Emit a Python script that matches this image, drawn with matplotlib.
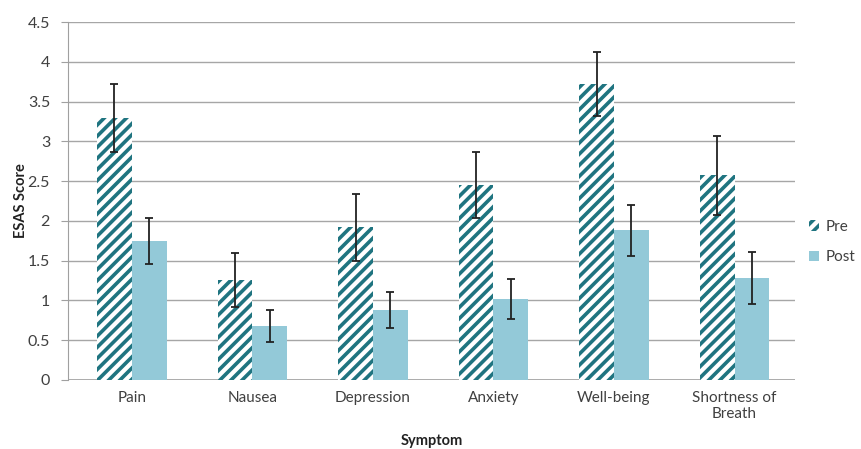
import matplotlib
matplotlib.use("Agg")
import matplotlib.pyplot as plt
import numpy as np

plt.rcParams['font.family'] = ['Lato', 'DejaVu Sans']
plt.rcParams['hatch.linewidth'] = 2.6

symptoms = ["Pain", "Nausea", "Depression", "Anxiety", "Well-being", "Shortness of\nBreath"]
pre = [3.29, 1.25, 1.92, 2.45, 3.72, 2.57]
pre_err = [0.43, 0.34, 0.42, 0.41, 0.40, 0.50]
post = [1.75, 0.68, 0.88, 1.02, 1.88, 1.28]
post_err = [0.29, 0.20, 0.23, 0.25, 0.32, 0.33]

teal = "#1f7480"
light = "#93c9d8"

fig = plt.figure(figsize=(8.62, 4.49), dpi=100)
ax = fig.add_axes([0.079, 0.154, 0.843, 0.797])

x = np.arange(len(symptoms))
w = 0.29
ax.bar(x - w/2, pre, w, color="white", edgecolor=teal, hatch="///", linewidth=0, label="Pre", zorder=2)
ax.bar(x + w/2, post, w, color=light, linewidth=0, label="Post", zorder=2)
ax.errorbar(x - w/2, pre, yerr=pre_err, fmt="none", ecolor="#222222", elinewidth=1.3, capsize=3, capthick=1.3, zorder=3)
ax.errorbar(x + w/2, post, yerr=post_err, fmt="none", ecolor="#222222", elinewidth=1.3, capsize=3, capthick=1.3, zorder=3)

ax.set_xlim(-0.53, 5.5)
ax.set_ylim(0, 4.5)
ax.set_yticks(np.arange(0, 4.6, 0.5))
ax.set_yticklabels(["0", "0.5", "1", "1.5", "2", "2.5", "3", "3.5", "4", "4.5"])
ax.set_xticks(x)
ax.set_xticklabels(symptoms, fontsize=11, color="#404040")
ax.tick_params(axis="y", labelsize=11.5, labelcolor="#404040", length=5, color="#a0a0a0", pad=8)
ax.tick_params(axis="x", length=0, pad=8)
ax.grid(axis="y", color="#a6a6a6", linewidth=1, zorder=0)
for side in ["top", "right", "bottom"]:
    ax.spines[side].set_visible(False)
ax.spines["left"].set_color("#a0a0a0")
ax.axhline(0, color="#a0a0a0", linewidth=1.2, zorder=1)

ax.set_ylabel("ESAS Score", fontsize=10.5, fontweight="bold", color="#222222", labelpad=0)
ax.set_xlabel("Symptom", fontsize=10.5, fontweight="bold", color="#222222", labelpad=9)

leg = ax.legend(loc="center left", bbox_to_anchor=(1.0, 0.385), frameon=False,
                fontsize=11, handlelength=0.7, handleheight=0.7, labelspacing=1.1,
                handletextpad=0.4)
for t in leg.get_texts():
    t.set_color("#404040")

fig.savefig("out.png", dpi=100)
